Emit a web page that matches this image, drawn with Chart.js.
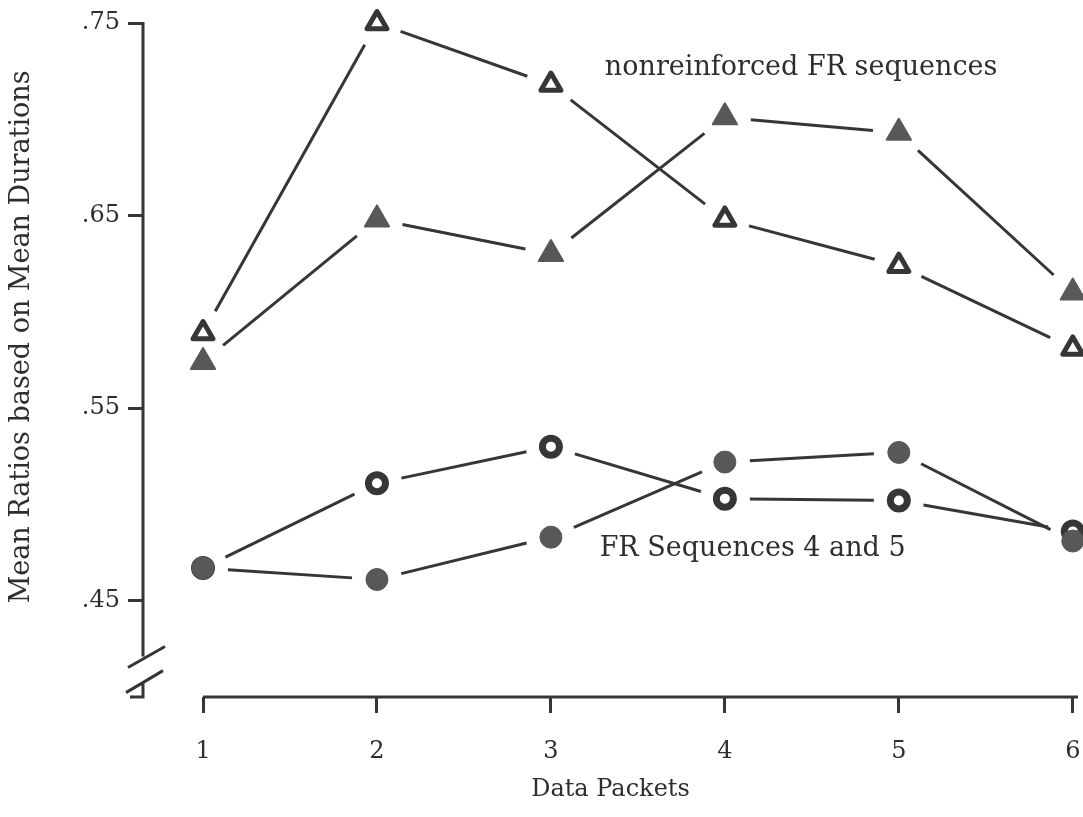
<!DOCTYPE html>
<html>
<head>
<meta charset="utf-8">
<title>Mean Ratios based on Mean Durations</title>
<script src="https://cdn.jsdelivr.net/npm/chart.js@4.4.1/dist/chart.umd.min.js"></script>
<style>
  html, body { margin: 0; background: #fff; }
  #wrap { width: 1083px; height: 817px; }
</style>
</head>
<body>
<div id="wrap"><canvas id="chart"></canvas></div>
<script>
// Mittelwerte je Datenpaket
const packets = [1, 2, 3, 4, 5, 6];
const triOpen    = [0.589, 0.750, 0.718, 0.648, 0.624, 0.581];
const triFilled  = [0.574, 0.648, 0.630, 0.701, 0.693, 0.610];
const circOpen   = [0.467, 0.511, 0.530, 0.503, 0.502, 0.486];
const circFilled = [0.467, 0.461, 0.483, 0.522, 0.527, 0.481];
const yTicks = [0.45, 0.55, 0.65, 0.75];

const INK = "#363636";
const GREY = "#585858";
const TEXT = "#2e2e2e";
const SERIF = "'DejaVu Serif', serif";

// Achsenbruch zwischen diesen Werten
const BREAK_HI = 0.421, BREAK_LO = 0.408;

const pts = (vals) => vals.map((v, i) => ({ x: packets[i], y: v }));

// gap: Abstand der Verbindungslinie vom Symbolmittelpunkt
const markSet = (vals, style, r, open, bw, gap) => ({
  data: pts(vals), showLine: false, pointStyle: style, pointRadius: r,
  pointBackgroundColor: open ? "#fff" : GREY,
  pointBorderColor: open ? INK : GREY,
  pointBorderWidth: bw, clip: false, gap,
});

// Verbindungslinien zwischen den Punkten, an beiden Enden gekuerzt
const connect = {
  id: "connect",
  beforeDatasetsDraw(chart) {
    const { ctx } = chart;
    ctx.save();
    ctx.strokeStyle = INK;
    ctx.lineWidth = 3;
    ctx.lineCap = "butt";
    chart.data.datasets.forEach((ds, i) => {
      const els = chart.getDatasetMeta(i).data;
      for (let k = 1; k < els.length; k++) {
        const a = els[k - 1], b = els[k];
        const dx = b.x - a.x, dy = b.y - a.y, len = Math.hypot(dx, dy);
        if (len <= 2 * ds.gap) continue;
        const ux = dx / len, uy = dy / len;
        ctx.beginPath();
        ctx.moveTo(a.x + ux * ds.gap, a.y + uy * ds.gap);
        ctx.lineTo(b.x - ux * ds.gap, b.y - uy * ds.gap);
        ctx.stroke();
      }
    });
    ctx.restore();
  },
};

const axisLines = {
  id: "axisLines",
  beforeDatasetsDraw(chart) {
    const { ctx, scales: { x, y } } = chart;
    const left = x.left, bottom = y.bottom;
    const hi = y.getPixelForValue(BREAK_HI), lo = y.getPixelForValue(BREAK_LO);
    ctx.save();
    ctx.strokeStyle = INK;
    ctx.lineWidth = 3;
    ctx.beginPath();
    ctx.moveTo(x.getPixelForValue(packets[0]), bottom);
    ctx.lineTo(x.right, bottom);
    ctx.moveTo(left, y.top - 1);
    ctx.lineTo(left, hi);
    ctx.moveTo(left, lo);
    ctx.lineTo(left, bottom);
    ctx.lineTo(left - 13, bottom);
    // Bruchstriche
    ctx.moveTo(left - 15, hi + 11);
    ctx.lineTo(left + 22, hi - 10);
    ctx.moveTo(left - 17, lo + 11);
    ctx.lineTo(left + 20, lo - 11);
    ctx.stroke();
    ctx.restore();
    ctx.lineJoin = "round";
  },
};

const notes = {
  id: "notes",
  afterDatasetsDraw(chart) {
    const { ctx, scales: { x, y } } = chart;
    ctx.save();
    ctx.fillStyle = TEXT;
    ctx.font = "27px " + SERIF;
    ctx.textAlign = "left";
    ctx.textBaseline = "middle";
    ctx.fillText("nonreinforced FR sequences", x.getPixelForValue(3.31), y.getPixelForValue(0.7265));
    ctx.fillText("FR Sequences 4 and 5", x.getPixelForValue(3.28), y.getPixelForValue(0.477));
    // Achsentitel links
    ctx.translate(22, y.getPixelForValue(0.587));
    ctx.rotate(-Math.PI / 2);
    ctx.textAlign = "center";
    ctx.fillText("Mean Ratios based on Mean Durations", 0, 0);
    ctx.restore();
  },
};

new Chart(document.getElementById("chart"), {
  type: "line",
  data: {
    datasets: [
      markSet(circFilled, "circle", 11, false, 1, 25),
      markSet(circOpen, "circle", 8.5, true, 7, 25),
      markSet(triFilled, "triangle", 14, false, 2, 26),
      markSet(triOpen, "triangle", 11.5, true, 5, 25),
    ],
  },
  options: {
    responsive: true,
    maintainAspectRatio: false,
    animation: false,
    devicePixelRatio: 1,
    layout: { autoPadding: false, padding: { top: 23, right: 5, left: 0, bottom: 0 } },
    plugins: { legend: { display: false }, tooltip: { enabled: false } },
    scales: {
      x: {
        type: "linear",
        min: 0.655, max: 6.03,
        afterBuildTicks: (axis) => { axis.ticks = packets.map((v) => ({ value: v })); },
        afterFit: (s) => { s.height = 120; s.paddingLeft = 0; s.paddingRight = 0; },
        border: { display: false },
        grid: { drawOnChartArea: false, drawTicks: true, tickLength: 16, color: INK, lineWidth: 3 },
        ticks: { color: TEXT, padding: 24, maxRotation: 0, font: { family: SERIF, size: 24 } },
        title: {
          display: true, text: "Data Packets", color: TEXT,
          font: { family: SERIF, size: 24 }, padding: { top: 0, bottom: 13 },
        },
      },
      y: {
        min: 0.40, max: 0.75,
        afterBuildTicks: (axis) => { axis.ticks = yTicks.map((v) => ({ value: v })); },
        afterFit: (s) => { s.width = 143; },
        border: { display: false },
        grid: { drawOnChartArea: false, drawTicks: true, tickLength: 15, color: INK, lineWidth: 3 },
        ticks: {
          color: TEXT, padding: 8, font: { family: SERIF, size: 24 },
          callback: (v) => v.toFixed(2).replace(/^0/, ""),
        },
      },
    },
  },
  plugins: [axisLines, connect, notes],
});
</script>
</body>
</html>
